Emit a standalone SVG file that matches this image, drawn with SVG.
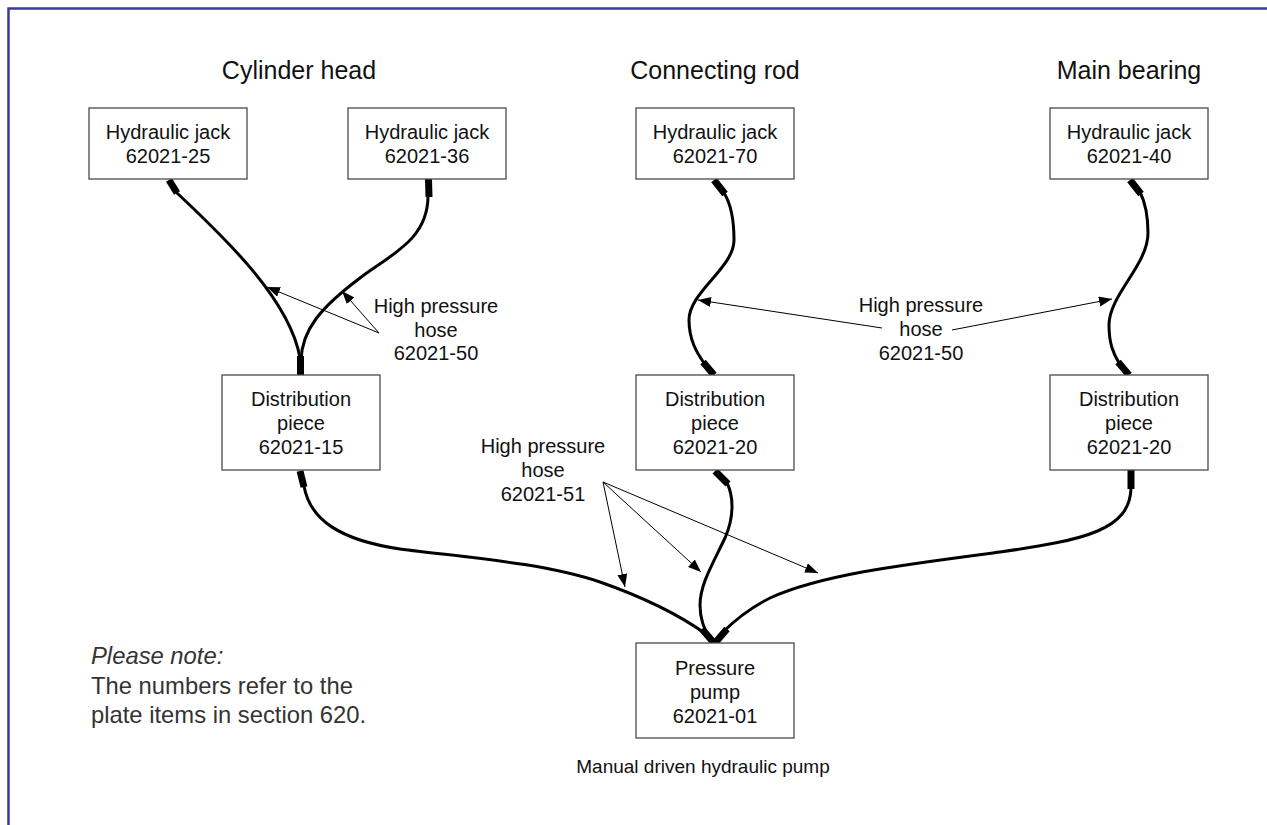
<svg xmlns="http://www.w3.org/2000/svg" width="1267" height="825" viewBox="0 0 1267 825">
  <style>
    .box { fill: #ffffff; stroke: #4a4a4a; stroke-width: 1.3; }
    .lbl { font-family: "Liberation Sans", Arial, sans-serif; font-size: 20px; fill: #111; text-anchor: middle; }
    .title { font-family: "Liberation Sans", Arial, sans-serif; font-size: 25px; fill: #111; text-anchor: middle; }
    .note { font-family: "Liberation Sans", Arial, sans-serif; font-size: 23.8px; fill: #333; }
    .hose { fill: none; stroke: #000; stroke-width: 3; stroke-linecap: round; }
    .fit { fill: none; stroke: #000; stroke-width: 7; stroke-linecap: butt; }
    .call { fill: none; stroke: #000; stroke-width: 1; marker-end: url(#tip); }
  </style>
  <defs>
    <marker id="tip" markerUnits="userSpaceOnUse" markerWidth="14" markerHeight="11" refX="13" refY="5" orient="auto">
      <path d="M0,0 L13,5 L0,10 z" fill="#000"/>
    </marker>
  </defs>

  <rect width="1267" height="825" fill="#ffffff"/>
  <!-- page frame (top and left edges) -->
  <path d="M8.5,825 V8.5 H1267" fill="none" stroke="#383d9c" stroke-width="2.5"/>

  <!-- section headings -->
  <g id="headings">
    <text class="title" x="299" y="79">Cylinder head</text>
    <text class="title" x="715" y="79">Connecting rod</text>
    <text class="title" x="1129" y="79">Main bearing</text>
  </g>

  <!-- hoses, fittings and callouts -->
  <g id="connectors">
    <!-- jack 25 to distribution 15 -->
    <path class="hose" d="M177,193 C225,238 290,300 300,358"/>
    <path class="fit" d="M169,180 L177,193"/>
    <!-- jack 36 to distribution 15 -->
    <path class="hose" d="M428,196 C428,240 390,255 360,278 C320,308 302,330 301,360"/>
    <path class="fit" d="M428.5,179 L429,197"/>
    <path class="fit" d="M300.5,356 L300.5,375"/>
    <!-- jack 70 to distribution 20 -->
    <path class="hose" d="M724,193 C731,204 734,220 734,240 C734,268 689,292 689,320 C689,340 697,353 704,363"/>
    <path class="fit" d="M714,180 L725,194"/>
    <path class="fit" d="M703,362 L714,375"/>
    <!-- jack 40 to distribution 20 -->
    <path class="hose" d="M1140,192 C1145,202 1148,215 1148,233 C1148,265 1109,295 1109,325 C1109,343 1113,353 1119,363"/>
    <path class="fit" d="M1130,180 L1141,194"/>
    <path class="fit" d="M1118,362 L1129,375"/>
    <!-- distribution pieces to pump -->
    <path class="hose" d="M304,486 C310,520 340,540 400,549 C460,557 540,562 600,582 C640,596 675,612 706,634"/>
    <path class="fit" d="M300,471 L304,487"/>
    <path class="hose" d="M727,483 C733,495 735,515 725,538 C712,565 700,585 700,605 C700,620 704,630 711,640"/>
    <path class="fit" d="M715,471 L728,484"/>
    <path class="hose" d="M1131,488 C1130,530 1085,540 1000,552 C900,565 820,575 770,598 C750,608 735,620 722,633"/>
    <path class="fit" d="M1131,470 L1131,489"/>
    <path class="fit" d="M702,629 L714,643"/>
    <path class="fit" d="M727,629 L715,643"/>

    <!-- callout leaders -->
    <path class="call" d="M379,333 L267,287"/>
    <path class="call" d="M379,333 L342,291"/>
    <path class="call" d="M882,328 L698,300"/>
    <path class="call" d="M952,330 L1112,299"/>
    <path class="call" d="M603,482 L625,587"/>
    <path class="call" d="M603,482 L701,572"/>
    <path class="call" d="M603,482 L818,573"/>
  </g>

  <g id="label-hose-50-left">
    <text class="lbl" x="436" y="313">High pressure</text>
    <text class="lbl" x="436" y="337">hose</text>
    <text class="lbl" x="436" y="360">62021-50</text>
  </g>
  <g id="label-hose-50-right">
    <text class="lbl" x="921" y="312">High pressure</text>
    <text class="lbl" x="921" y="336">hose</text>
    <text class="lbl" x="921" y="360">62021-50</text>
  </g>
  <g id="label-hose-51">
    <text class="lbl" x="543" y="453">High pressure</text>
    <text class="lbl" x="543" y="477">hose</text>
    <text class="lbl" x="543" y="501">62021-51</text>
  </g>

  <g id="jack-25">
    <rect class="box" x="89" y="108" width="158" height="71"/>
    <text class="lbl" x="168" y="139">Hydraulic jack</text>
    <text class="lbl" x="168" y="163">62021-25</text>
  </g>
  <g id="jack-36">
    <rect class="box" x="348" y="108" width="158" height="71"/>
    <text class="lbl" x="427" y="139">Hydraulic jack</text>
    <text class="lbl" x="427" y="163">62021-36</text>
  </g>
  <g id="jack-70">
    <rect class="box" x="636" y="108" width="158" height="71"/>
    <text class="lbl" x="715" y="139">Hydraulic jack</text>
    <text class="lbl" x="715" y="163">62021-70</text>
  </g>
  <g id="jack-40">
    <rect class="box" x="1050" y="108" width="158" height="71"/>
    <text class="lbl" x="1129" y="139">Hydraulic jack</text>
    <text class="lbl" x="1129" y="163">62021-40</text>
  </g>

  <g id="dist-15">
    <rect class="box" x="222" y="375" width="158" height="95"/>
    <text class="lbl" x="301" y="406">Distribution</text>
    <text class="lbl" x="301" y="430">piece</text>
    <text class="lbl" x="301" y="454">62021-15</text>
  </g>
  <g id="dist-20-rod">
    <rect class="box" x="636" y="375" width="158" height="95"/>
    <text class="lbl" x="715" y="406">Distribution</text>
    <text class="lbl" x="715" y="430">piece</text>
    <text class="lbl" x="715" y="454">62021-20</text>
  </g>
  <g id="dist-20-bearing">
    <rect class="box" x="1050" y="375" width="158" height="95"/>
    <text class="lbl" x="1129" y="406">Distribution</text>
    <text class="lbl" x="1129" y="430">piece</text>
    <text class="lbl" x="1129" y="454">62021-20</text>
  </g>

  <g id="pump">
    <rect class="box" x="636" y="643" width="158" height="95"/>
    <text class="lbl" x="715" y="675">Pressure</text>
    <text class="lbl" x="715" y="699">pump</text>
    <text class="lbl" x="715" y="723">62021-01</text>
    <text class="lbl" x="703" y="773" style="font-size:19px">Manual driven hydraulic pump</text>
  </g>

  <g id="note">
    <text class="note" x="91" y="664" font-style="italic">Please note:</text>
    <text class="note" x="91" y="694">The numbers refer to the</text>
    <text class="note" x="91" y="723">plate items in section 620.</text>
  </g>
</svg>
